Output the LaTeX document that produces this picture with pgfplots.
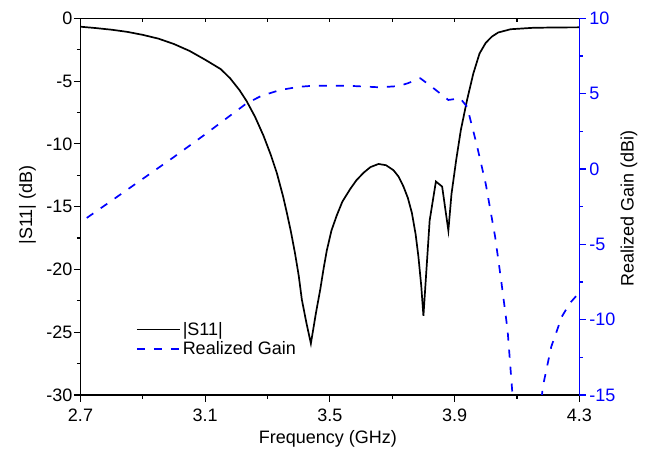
\documentclass[border=0pt]{standalone}
\usepackage{fontspec}
\setmainfont{Liberation Sans}
\usepackage{pgfplots}
\pgfplotsset{compat=1.18}
\definecolor{gblue}{RGB}{0,0,255}

\begin{document}
\begin{tikzpicture}[font=\fontsize{18bp}{21bp}\selectfont]
\pgfplotsset{
  every axis/.append style={
    scale only axis, width=498.8bp, height=376.7bp,
    xmin=2.7, xmax=4.3,
    tick align=outside,
    major tick length=6.5bp, minor tick length=3.5bp,
    every tick/.style={line width=1.1bp},
    axis line style={line width=1.3bp},
    clip=true,
  }
}
% main axis: |S11|
\begin{axis}[name=ax,
  ymin=-30, ymax=0,
  xtick={2.7,3.1,3.5,3.9,4.3},
  xticklabels={2.7,3.1,3.5,3.9,4.3},
  minor xtick={2.9,3.3,3.7,4.1},
  ytick={-30,-25,-20,-15,-10,-5,0},
  yticklabels={-30,-25,-20,-15,-10,-5,0},
  minor ytick={-27.5,-22.5,-17.5,-12.5,-7.5,-2.5},
  xtick pos=left, ytick pos=left,
  xticklabel style={yshift=-4bp},
  yticklabel style={xshift=2bp},
  xlabel={Frequency (GHz)},
  ylabel={|S11| (dB)},
  x label style={at={(axis description cs:0.496,-0.117)}, anchor=center},
  y label style={at={(axis description cs:-0.106,0.504)}, anchor=center},
]
\addplot[black, line width=1.7bp] coordinates {
(2.70,-0.67) (2.75,-0.78) (2.80,-0.91) (2.85,-1.08) (2.90,-1.32)
(2.95,-1.62) (3.00,-2.05) (3.05,-2.60) (3.10,-3.30) (3.15,-4.05)
(3.18,-4.78) (3.21,-5.72) (3.233,-6.60) (3.26,-7.85) (3.287,-9.35)
(3.31,-10.85) (3.33,-12.34) (3.35,-14.2) (3.362,-15.5) (3.375,-17.0)
(3.388,-18.7) (3.40,-20.5) (3.41,-22.4) (3.425,-24.3) (3.439,-25.9)
(3.455,-23.5) (3.469,-21.6) (3.48,-19.9) (3.49,-18.5) (3.505,-16.9)
(3.522,-15.7) (3.54,-14.6) (3.565,-13.6) (3.585,-12.9) (3.608,-12.3)
(3.63,-11.85) (3.656,-11.6) (3.68,-11.7) (3.704,-12.1) (3.72,-12.6)
(3.736,-13.4) (3.75,-14.3) (3.763,-15.5) (3.775,-17.2) (3.784,-19.0)
(3.793,-21.3) (3.80,-23.7) (3.82,-16.1) (3.84,-13.0) (3.86,-13.4)
(3.88,-16.9) (3.89,-14.0) (3.905,-11.3) (3.92,-8.9) (3.94,-6.5)
(3.96,-4.4) (3.98,-2.8) (4.00,-1.95) (4.02,-1.45) (4.04,-1.13)
(4.08,-0.87) (4.15,-0.76) (4.22,-0.73) (4.30,-0.72)
};
\end{axis}
% top ticks (inside)
\begin{axis}[
  ymin=0, ymax=1,
  axis x line*=top, axis y line=none,
  xtick={2.9,3.1,3.3,3.5,3.7,3.9,4.1},
  xticklabels={},
  tick align=inside, major tick length=3.5bp,
]
\end{axis}
% right axis: realized gain
\begin{axis}[
  ymin=-15, ymax=10,
  axis y line*=right, axis x line=none,
  ytick={-15,-10,-5,0,5,10},
  yticklabels={-15,-10,-5,0,5,10},
  minor ytick={-12.5,-7.5,-2.5,2.5,7.5},
  y axis line style={gblue},
  y tick style={gblue},
  yticklabel style={gblue},
  ylabel={Realized Gain (dBi)},
  y label style={at={(axis description cs:1.0997,0.494)}, anchor=center, black},
  legend style={draw=none, fill=none, at={(axis description cs:0.105,0.204)}, anchor=north west,
    font=\fontsize{18bp}{21bp}\selectfont, row sep=1bp},
  legend cell align=left,
  legend image code/.code={\draw[#1] (0bp,0bp) -- (43bp,0bp);},
]
\addlegendimage{black, line width=1.7bp}
\addlegendentry{|S11|}
\addplot[gblue, line width=1.7bp, dash pattern=on 8bp off 9bp] coordinates {
(2.72,-3.25) (2.80,-2.10) (2.90,-0.65) (3.00,0.80) (3.10,2.30)
(3.20,3.85) (3.233,4.36) (3.28,4.85) (3.34,5.24) (3.40,5.45)
(3.45,5.53) (3.55,5.53) (3.66,5.42) (3.72,5.50) (3.75,5.69)
(3.79,6.02) (3.833,5.35) (3.88,4.58) (3.918,4.69) (3.94,4.13)
(3.97,1.70) (4.00,-1.00) (4.03,-4.50) (4.05,-7.50) (4.07,-10.7)
(4.085,-14.8) (4.10,-19.0) (4.13,-22.0) (4.16,-19.0) (4.183,-14.45)
(4.21,-11.8) (4.244,-9.8) (4.27,-8.9) (4.30,-8.2)
};
\addlegendentry{Realized Gain}
\end{axis}
\pgfresetboundingbox
\path[use as bounding box] ([shift={(-80.5bp,-56bp)}]ax.south west) rectangle ([shift={(68.7bp,18.3bp)}]ax.north east);
\end{tikzpicture}
\end{document}
